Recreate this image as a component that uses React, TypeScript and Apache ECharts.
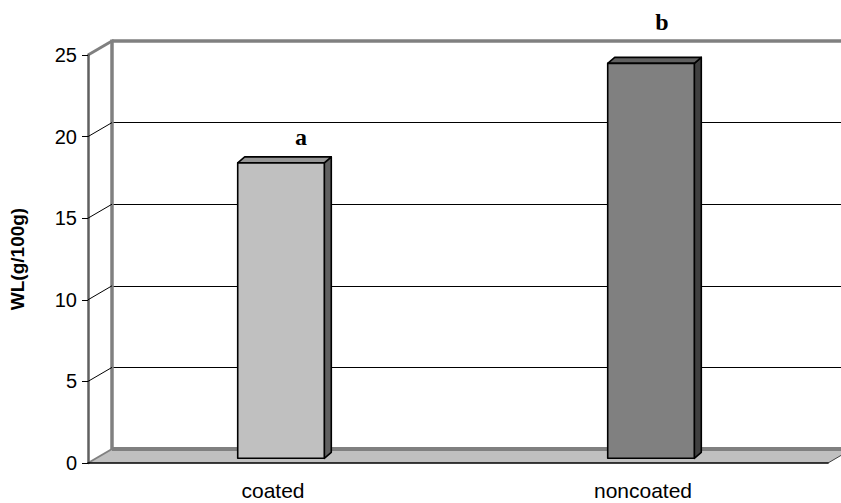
import React, { useEffect, useRef } from "react";
import * as echarts from "echarts";

// ---- data ----
const CATEGORIES = ["coated", "noncoated"];
const WL_VALUES = [18.1, 24.2];
const LETTERS = ["a", "b"];
const Y_TICKS = [0, 5, 10, 15, 20, 25];

// ---- layout (pixels) ----
const W = 841;
const H = 503;
const FL = 88; // front left
const FT = 55; // front top (value 25)
const FB = 463; // front bottom (value 0)
const AR = 828; // axis right end
const DX = 24; // wall depth x
const DY = -14; // wall depth y
const BAR_RATIO = 0.234;
const BAR_SHIFT_X = 8;
const BAR_SHIFT_Y = -4.7;
const BAR_DX = 7;
const BAR_DY = -6;
const LETTER_DX = [20, 11];
const LETTER_DY = [-20, -35];
const FRONT = ["#c0c0c0", "#808080"];
const TOP = ["#969696", "#606060"];
const SIDE = ["#606060", "#404040"];
const SANS = "'Liberation Sans', Arial, sans-serif";

export default function App() {
  const ref = useRef<HTMLDivElement>(null);
  useEffect(() => {
    document.body.style.margin = "0";
    const chart = echarts.init(ref.current!, null, { renderer: "svg" });
    const gw = AR - FL;
    const gh = FB - FT;
    chart.setOption({
      animation: false,
      backgroundColor: "#ffffff",
      grid: [
        { left: FL, top: FT, width: gw, height: gh },
        { left: FL + DX, top: FT + DY, width: gw, height: gh },
      ],
      xAxis: [
        {
          gridIndex: 0,
          type: "category",
          data: CATEGORIES,
          axisLine: { lineStyle: { color: "#000", width: 1.5 } },
          axisTick: { length: 7, lineStyle: { color: "#404040", width: 1 } },
          axisLabel: { fontSize: 21, color: "#000", margin: 17, fontFamily: SANS },
          splitLine: { show: false },
        },
        { gridIndex: 1, type: "category", data: CATEGORIES, show: false },
      ],
      yAxis: [
        {
          gridIndex: 0,
          type: "value",
          min: 0,
          max: 25,
          interval: 5,
          axisLine: { show: true, lineStyle: { color: "#606060", width: 2.5 } },
          axisTick: { show: true, length: 6, lineStyle: { color: "#000", width: 1 } },
          axisLabel: { fontSize: 20, color: "#000", margin: 11, fontFamily: SANS },
          splitLine: { show: false },
          name: "WL(g/100g)",
          nameLocation: "middle",
          nameGap: 61,
          nameTextStyle: { fontSize: 19, fontWeight: "bold", color: "#000", fontFamily: SANS },
        },
        {
          gridIndex: 1,
          type: "value",
          min: 0,
          max: 25,
          interval: 5,
          z: -2,
          axisLine: { show: false },
          axisTick: { show: false },
          axisLabel: { show: false },
          splitLine: { show: true, lineStyle: { color: "#000", width: 1 } },
        },
      ],
      graphic: [
        {
          type: "polygon",
          z: -1,
          shape: { points: [[FL, FB], [FL + DX, FB + DY], [AR + DX, FB + DY], [AR, FB]] },
          style: { fill: "#c0c0c0" },
          silent: true,
        },
        {
          type: "line",
          z: -1,
          shape: { x1: FL + DX, y1: FB + DY, x2: W, y2: FB + DY },
          style: { stroke: "#808080", lineWidth: 4 },
          silent: true,
        },
        {
          type: "line",
          z: -1,
          shape: { x1: FL + DX, y1: FT + DY - 1.5, x2: FL + DX, y2: FB + DY },
          style: { stroke: "#808080", lineWidth: 3.5 },
          silent: true,
        },
        {
          type: "line",
          z: -1,
          shape: { x1: FL + DX, y1: FT + DY, x2: W, y2: FT + DY },
          style: { stroke: "#808080", lineWidth: 3.5 },
          silent: true,
        },
        {
          type: "line",
          z: -1,
          shape: { x1: FL, y1: FT, x2: FL + DX, y2: FT + DY },
          style: { stroke: "#808080", lineWidth: 3 },
          silent: true,
        },
        {
          type: "line",
          z: -1,
          shape: { x1: FL, y1: FB, x2: FL + DX, y2: FB + DY },
          style: { stroke: "#808080", lineWidth: 2 },
          silent: true,
        },
        {
          type: "line",
          z: -1,
          shape: { x1: AR, y1: FB, x2: AR + DX, y2: FB + DY },
          style: { stroke: "#404040", lineWidth: 1 },
          silent: true,
        },
      ],
      series: [
        {
          type: "custom",
          xAxisIndex: 0,
          yAxisIndex: 0,
          z: 1,
          silent: true,
          data: Y_TICKS.slice(1, -1).map((v) => [0, v]),
          renderItem: (params: any, api: any) => {
            const p = api.coord([0, api.value(1)]);
            const x = params.coordSys.x;
            return {
              type: "line",
              shape: { x1: x, y1: p[1], x2: x + DX, y2: p[1] + DY },
              style: { stroke: "#000", lineWidth: 1 },
            };
          },
        },
        {
          type: "custom",
          xAxisIndex: 0,
          yAxisIndex: 0,
          z: 5,
          silent: true,
          data: WL_VALUES.map((v, i) => [i, v]),
          renderItem: (params: any, api: any) => {
            const i = api.value(0);
            const v = api.value(1);
            const top = api.coord([i, v]);
            const base = api.coord([i, 0]);
            const w = api.size([1, 0])[0] * BAR_RATIO;
            const x0 = top[0] - w / 2 + BAR_SHIFT_X;
            const yt = top[1] + BAR_SHIFT_Y;
            const yb = base[1] + BAR_SHIFT_Y;
            const stroke = { stroke: "#000", lineWidth: 1.6, lineJoin: "round" };
            return {
              type: "group",
              children: [
                {
                  type: "polygon",
                  shape: {
                    points: [
                      [x0 + w, yt],
                      [x0 + w + BAR_DX, yt + BAR_DY],
                      [x0 + w + BAR_DX, yb + BAR_DY],
                      [x0 + w, yb],
                    ],
                  },
                  style: { fill: SIDE[i], ...stroke },
                },
                {
                  type: "polygon",
                  shape: {
                    points: [
                      [x0, yt],
                      [x0 + BAR_DX, yt + BAR_DY],
                      [x0 + w + BAR_DX, yt + BAR_DY],
                      [x0 + w, yt],
                    ],
                  },
                  style: { fill: TOP[i], ...stroke },
                },
                {
                  type: "rect",
                  shape: { x: x0, y: yt, width: w, height: yb - yt },
                  style: { fill: FRONT[i], ...stroke },
                },
                {
                  type: "text",
                  style: {
                    text: LETTERS[i],
                    x: x0 + w / 2 + LETTER_DX[i],
                    y: yt + BAR_DY + LETTER_DY[i],
                    align: "center",
                    verticalAlign: "middle",
                    fill: "#000",
                    font: "bold 24px 'Liberation Serif', 'Times New Roman', serif",
                  },
                },
              ],
            };
          },
        },
      ],
    });
    return () => chart.dispose();
  }, []);
  return <div ref={ref} style={{ width: W, height: H }} />;
}
